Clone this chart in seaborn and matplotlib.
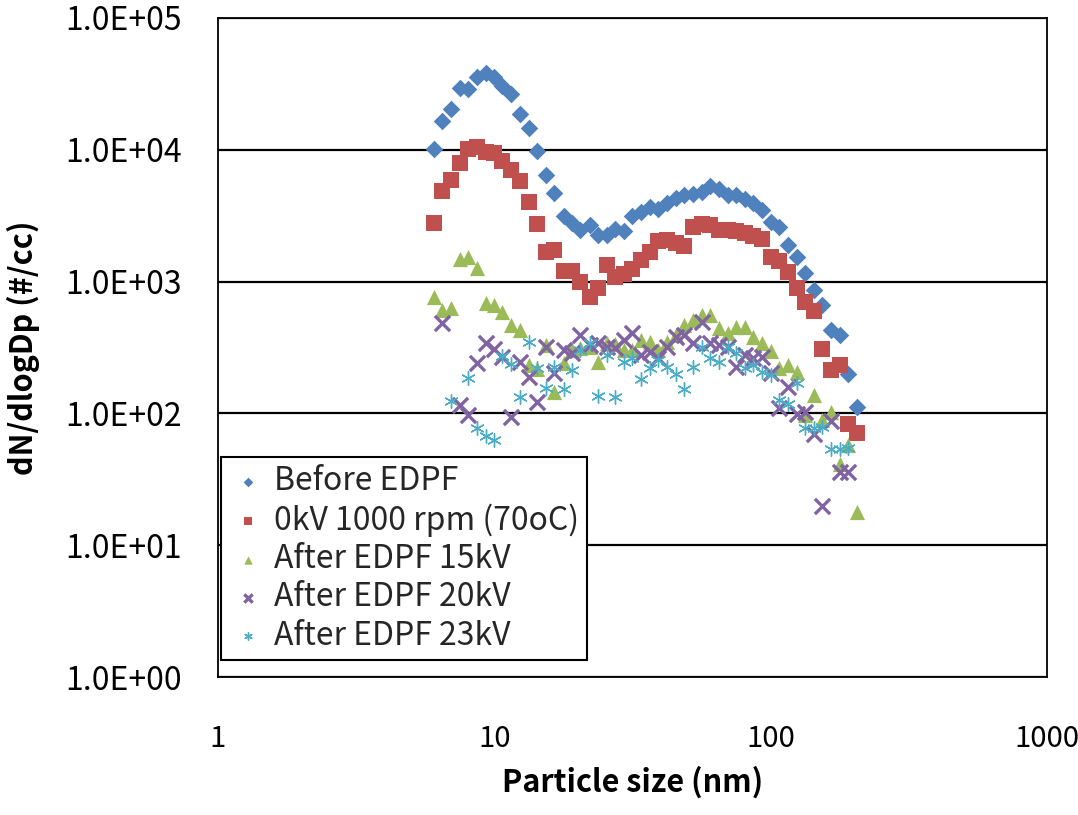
import numpy as np
import pandas as pd
import matplotlib
matplotlib.use("Agg")
import matplotlib.pyplot as plt
import seaborn as sns
from matplotlib.ticker import FuncFormatter, FixedLocator

# particle diameters (nm), SMPS channels
diameter = [6.04, 6.49, 6.98, 7.50, 8.06, 8.66, 9.31, 10.0, 10.7, 11.5,
            12.4, 13.3, 14.3, 15.4, 16.5, 17.8, 19.1, 20.5, 22.1, 23.7,
            25.5, 27.4, 29.4, 31.6, 34.0, 36.5, 39.2, 42.2, 45.3, 48.7,
            52.3, 56.2, 60.4, 64.9, 69.8, 75.0, 80.6, 86.6, 93.1, 100.0,
            107.5, 115.5, 124.1, 133.3, 143.3, 154.0, 165.5, 177.8, 191.1, 205.4]

before_edpf = [10140, 16630, 20400, 29300, 28770, 35880, 38470, 35880, 30480, 26370,
               18700, 14720, 9840, 6440, 4677, 3162, 2768, 2464, 2687, 2259,
               2259, 2506, 2422, 3146, 3390, 3661, 3537, 3927, 4285, 4540,
               4620, 4810, 5312, 5015, 4540, 4540, 4210, 3927, 3493, 2847,
               2583, 1896, 1529, 1156, 863, 664, 429, 393, 199, 112]

kv0_1000rpm = [2768, 4867, 5900, 7905, 10140, 10560, 9680, 9400, 8225, 7030,
               5800, 4037, 2722, 1686, 1738, 1210, 1210, 988, 768, 894,
               1336, 1089, 1142, 1257, 1459, 1663, 2044, 2070, 1953, 1872,
               2583, 2735, 2687, 2464, 2464, 2422, 2324, 2218, 2094, 1529,
               1433, 1176, 899, 704, 598, 306, 213, 233, 83, 71]

after_15kv = [768, 609, 627, 1484, 1545, 1262, 692, 664, 591, 469,
              429, 233, 216, 330, 146, 240, 303, 312, 319, 247,
              340, 336, 303, 303, 361, 350, 303, 348, 393, 469,
              511, 558, 558, 442, 405, 455, 455, 382, 342, 297,
              221, 233, 207, 97, 138, 89, 103, 41, 58, 18]

nan = np.nan
after_20kv = [nan, 483, nan, 116, 97, 240, 344, 306, 269, 94,
              247, 188, 123, 321, 204, 303, 286, 393, 330, 340,
              321, 313, 361, 407, 277, 292, 263, 319, 377, 393,
              345, 496, 345, 330, 319, 226, 277, 262, 269, 204,
              109, 159, 99, 103, 70, 20, 88, 36, 36, nan]

after_23kv = [nan, nan, 124, nan, 187, 77, 67, 63, 273, 237,
              134, 348, 221, 157, 223, 153, 213, 303, 340, 136,
              277, 134, 247, 262, 182, 221, 254, 226, 199, 152,
              225, 321, 262, 247, 321, 286, 220, 233, 207, 195,
              126, 118, 170, 77, 78, 79, 54, 54, 55, nan]

series_names = ["Before EDPF", "0kV 1000 rpm (70oC)", "After EDPF 15kV",
                "After EDPF 20kV", "After EDPF 23kV"]
series_values = [before_edpf, kv0_1000rpm, after_15kv, after_20kv, after_23kv]

colors = ["#4F81BD", "#C0504D", "#9BBB59", "#8064A2", "#4BACC6"]
markers = ["D", "s", "^", "x", (6, 2, 0)]
sizes = [80, 135, 120, 120, 95]
widths = [0, 0, 0, 2.4, 1.0]

sns.set_theme(style="white")
plt.rcParams["font.family"] = ["Noto Sans CJK KR", "DejaVu Sans"]

fig = plt.figure(figsize=(10.78, 8.15), dpi=100)
ax = fig.add_axes([218 / 1078, 1 - 677 / 815, 829 / 1078, 659 / 815])

for name, vals, c, m, s, lw in zip(series_names, series_values, colors, markers, sizes, widths):
    df = pd.DataFrame({"d": diameter, "n": vals}).dropna()
    sns.scatterplot(data=df, x="d", y="n", ax=ax, marker=m, color=c, s=s,
                    linewidth=lw, label=name, zorder=3)

ax.set_xscale("log")
ax.set_yscale("log")
ax.set_xlim(1, 1000)
ax.set_ylim(1, 1e5)

ax.xaxis.set_major_locator(FixedLocator([1, 10, 100, 1000]))
ax.yaxis.set_major_locator(FixedLocator([1, 10, 100, 1e3, 1e4, 1e5]))
ax.xaxis.set_minor_locator(FixedLocator([]))
ax.yaxis.set_minor_locator(FixedLocator([]))
ax.xaxis.set_major_formatter(FuncFormatter(lambda v, p: f"{v:g}"))
ax.yaxis.set_major_formatter(FuncFormatter(lambda v, p: f"{v:.1E}"))
ax.tick_params(axis="x", length=0, pad=34, labelsize=21, colors="black")
ax.tick_params(axis="y", length=0, pad=26, labelsize=23, colors="black")

ax.yaxis.grid(True, color="black", linewidth=1.6)
ax.xaxis.grid(False)
for sp in ax.spines.values():
    sp.set_color("black")
    sp.set_linewidth(1.3)

ax.set_xlabel("Particle size (nm)", fontsize=22, fontweight="bold", color="black")
ax.set_ylabel("dN/dlogDp (#/cc)", fontsize=22, fontweight="bold", color="black")
ax.xaxis.set_label_coords(0.5, -0.135)
ax.yaxis.set_label_coords(-0.215, 0.5)

leg = ax.legend(loc="lower left", bbox_to_anchor=(0.004, 0.026), fontsize=23,
                frameon=True, fancybox=False, edgecolor="black", framealpha=1,
                markerscale=0.55, handletextpad=0.2, labelspacing=0.2,
                borderpad=0.25, borderaxespad=0, handlelength=1.2)
leg.get_frame().set_linewidth(1.5)

fig.savefig("out.png", dpi=100)
